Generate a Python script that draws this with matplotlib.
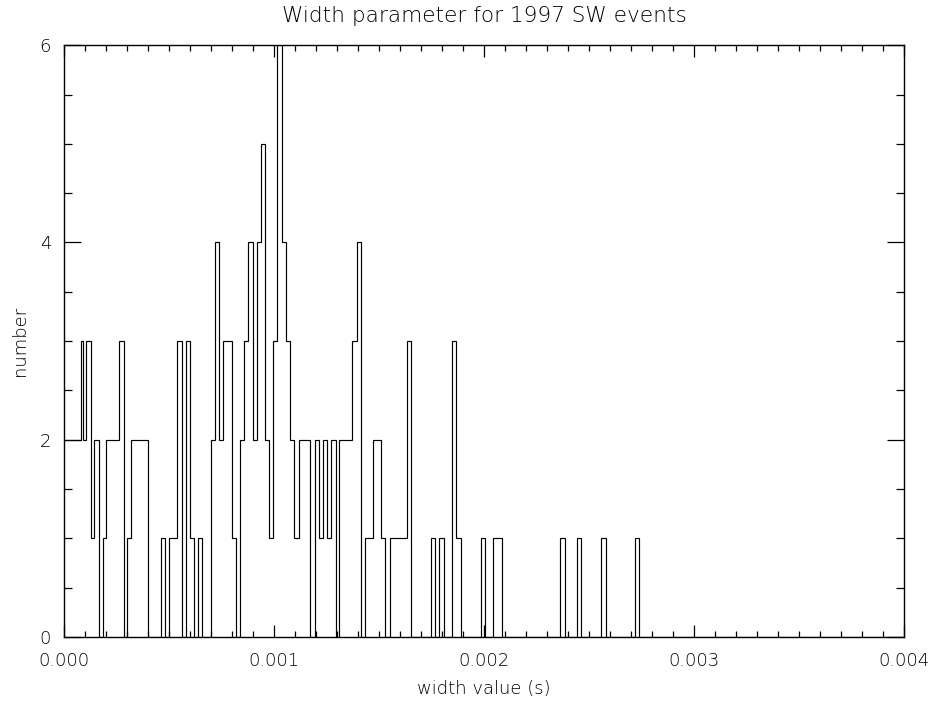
import matplotlib
matplotlib.use("Agg")
import matplotlib.pyplot as plt
import numpy as np
from matplotlib.ticker import MultipleLocator, FormatStrFormatter

# step edges of the histogram, in ms
edges_ms = [0.0, 0.0809, 0.0904, 0.1061, 0.1285, 0.1442, 0.1666, 0.1856, 0.2013, 0.2646,
            0.2870, 0.3027, 0.3218, 0.4012, 0.4631, 0.4822, 0.5012, 0.5407, 0.5616, 0.5807,
            0.6026, 0.6216, 0.6407, 0.6597, 0.6987, 0.7201, 0.7392, 0.7582, 0.7996, 0.8201,
            0.8401, 0.8591, 0.8772, 0.8986, 0.9186, 0.9377, 0.9581, 0.9781, 0.9976, 1.0167,
            1.0390, 1.0581, 1.0771, 1.0971, 1.1176, 1.1723, 1.1937, 1.2151, 1.2356, 1.2546,
            1.2737, 1.2937, 1.3118, 1.3736, 1.3946, 1.4141, 1.4341, 1.4707, 1.5117, 1.5307,
            1.5507, 1.6316, 1.6521, 1.7482, 1.7673, 1.7872, 1.8077, 1.8472, 1.8686, 1.8901,
            1.9853, 2.0062, 2.0447, 2.0871, 2.3632, 2.3836, 2.4408, 2.4631, 2.5583, 2.5802,
            2.7168, 2.7396, 4.0]

# number of events in each step
counts = [2, 3, 2, 3, 1, 2, 0, 1, 2, 3,
          0, 1, 2, 0, 1, 0, 1, 3, 0, 3,
          1, 0, 1, 0, 2, 4, 2, 3, 1, 0,
          2, 3, 4, 2, 4, 5, 2, 1, 3, 6,
          4, 3, 2, 1, 2, 0, 2, 1, 2, 1,
          2, 0, 2, 3, 4, 0, 1, 2, 1, 0,
          1, 3, 0, 1, 0, 1, 0, 3, 1, 0,
          1, 0, 1, 0, 1, 0, 1, 0, 1, 0,
          1, 0]

xticks = [0.000, 0.001, 0.002, 0.003, 0.004]
yticks = [0, 2, 4, 6]

title = "Width parameter for 1997 SW events"
xlabel = "width value (s)"
ylabel = "number"

plt.rcParams['font.family'] = ['DejaVu Sans']
plt.rcParams['font.size'] = 13

fig = plt.figure(figsize=(9.37, 7.02), dpi=100)
ax = fig.add_axes([0.068, 0.0926, 0.897, 0.843])

edges = np.array(edges_ms) * 1e-3
ax.stairs(counts, edges, baseline=None, color='black', linewidth=0.85)

ax.set_xlim(0, 0.004)
ax.set_ylim(0, 6)
ax.set_xticks(xticks)
ax.set_yticks(yticks)
ax.xaxis.set_major_formatter(FormatStrFormatter('%.3f'))
ax.yaxis.set_major_formatter(FormatStrFormatter('%d'))
ax.xaxis.set_minor_locator(MultipleLocator(0.0001))
ax.yaxis.set_minor_locator(MultipleLocator(0.5))

ax.tick_params(axis='both', which='both', direction='in', top=True, right=True,
               color='black', width=0.9)
ax.tick_params(axis='x', which='major', length=8.6, pad=11)
ax.tick_params(axis='x', which='minor', length=4.3)
ax.tick_params(axis='y', which='major', length=12, pad=9)
ax.tick_params(axis='y', which='minor', length=6)

for sp in ax.spines.values():
    sp.set_linewidth(1.0)
    sp.set_color('black')

ax.set_title(title, pad=17, fontweight='light', color='black')
ax.set_xlabel(xlabel, labelpad=7, fontweight='light', color='black')
ax.set_ylabel(ylabel, labelpad=8, fontweight='light', color='black')
for lab in ax.get_xticklabels() + ax.get_yticklabels():
    lab.set_fontweight('light')
    lab.set_color('black')

fig.savefig("out.png", dpi=100)
